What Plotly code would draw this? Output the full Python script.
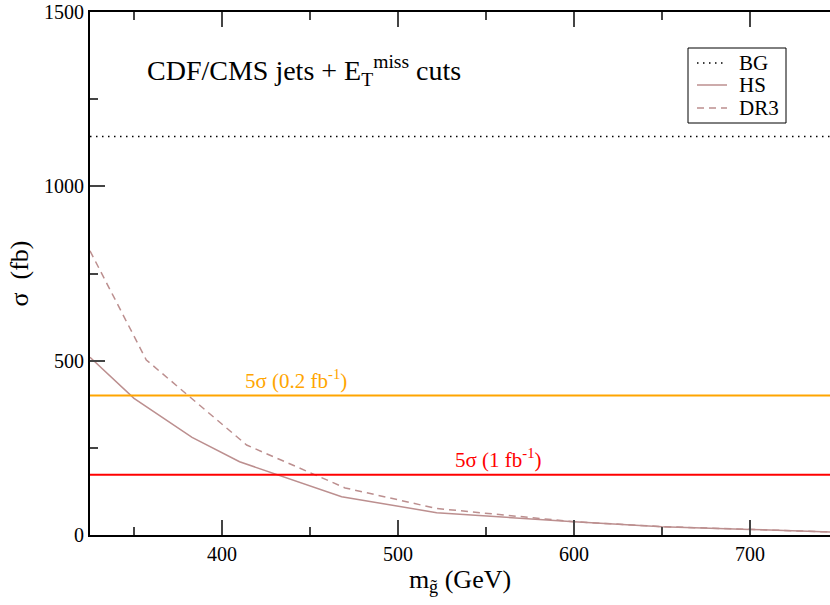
import plotly.graph_objects as go

# Data
hs_mass = [325, 350, 383, 410, 468, 522, 600, 650, 700, 750]
hs_sigma = [510, 392, 280, 210, 110, 64, 38, 24, 16, 8]
dr3_mass = [325, 357, 414, 470, 522, 600, 650, 700, 750]
dr3_sigma = [815, 502, 258, 135, 76, 38, 24, 16, 8]
bg_level = 1143
five_sigma_02 = 400
five_sigma_1 = 173
x_span = [325, 750]
legend_names = ["BG", "HS", "DR3"]

FONT = "Liberation Serif"
brown = "#bc8f8f"
W, H = 830, 605
ML, MR, MT, MB = 90, 0, 12, 70
PW, PH = W - ML - MR, H - MT - MB


def px(xp):
    return (xp - ML) / PW


def py(yp):
    return (H - MB - yp) / PH


styles = [dict(color="black", width=1.5, dash="1.5px,4.5px"),
          dict(color=brown, width=1.5),
          dict(color=brown, width=1.5, dash="7px,5px")]

fig = go.Figure()
fig.add_trace(go.Scatter(x=x_span, y=[bg_level, bg_level], mode="lines", name=legend_names[0],
                         line=styles[0], showlegend=False))
fig.add_trace(go.Scatter(x=hs_mass, y=hs_sigma, mode="lines", name=legend_names[1],
                         line=styles[1], showlegend=False))
fig.add_trace(go.Scatter(x=dr3_mass, y=dr3_sigma, mode="lines", name=legend_names[2],
                         line=styles[2], showlegend=False))
fig.add_trace(go.Scatter(x=x_span, y=[five_sigma_02] * 2, mode="lines", showlegend=False,
                         line=dict(color="#ffa500", width=2)))
fig.add_trace(go.Scatter(x=x_span, y=[five_sigma_1] * 2, mode="lines", showlegend=False,
                         line=dict(color="#ff0000", width=2)))

fig.add_annotation(x=442, y=five_sigma_02, yanchor="bottom", yshift=1, showarrow=False,
                   text="5σ (0.2 fb<sup>-1</sup>)", font=dict(family=FONT, size=21, color="#ffa500"))
fig.add_annotation(x=557, y=five_sigma_1, yanchor="bottom", yshift=1, showarrow=False,
                   text="5σ (1 fb<sup>-1</sup>)", font=dict(family=FONT, size=21, color="#ff0000"))
fig.add_annotation(x=px(145), y=py(92), xref="paper", yref="paper", xanchor="left", yanchor="bottom",
                   showarrow=False,
                   text="CDF/CMS jets + E<sub>T</sub><sup>miss</sup> cuts",
                   font=dict(family=FONT, size=28, color="black"))

# legend (drawn manually to match the compact layout)
fig.add_shape(type="rect", xref="paper", yref="paper", x0=px(688), x1=px(786), y0=py(48), y1=py(123),
              line=dict(color="black", width=1), fillcolor="white", layer="above")
rows = [63, 85, 108]
for name, st, r in zip(legend_names, styles, rows):
    fig.add_shape(type="line", xref="paper", yref="paper", x0=px(697), x1=px(727), y0=py(r), y1=py(r),
                  line=st, layer="above")
    fig.add_annotation(x=px(737), y=py(r), xref="paper", yref="paper", xanchor="left", yanchor="middle",
                       showarrow=False, text=name, font=dict(family=FONT, size=21, color="black"))

fig.update_layout(
    width=W, height=H,
    margin=dict(l=ML, r=MR, t=MT, b=MB),
    plot_bgcolor="white", paper_bgcolor="white",
    font=dict(family=FONT, size=20, color="black"),
    showlegend=False,
    xaxis=dict(range=[325, 745.5], tickvals=[400, 500, 600, 700], ticks="inside", ticklen=15,
               tickwidth=1.5, tickcolor="#444", showline=True, linecolor="black", linewidth=2,
               mirror="ticks", showgrid=False, zeroline=False,
               minor=dict(dtick=50, tick0=0, ticks="inside", ticklen=8, tickcolor="#444", tickwidth=1.5),
               title=dict(text="m<sub>g̃</sub> (GeV)", font=dict(family=FONT, size=26), standoff=2)),
    yaxis=dict(range=[0, 1500], tickvals=[0, 500, 1000, 1500], ticks="inside", ticklen=15,
               tickwidth=1.5, tickcolor="#444", showline=True, linecolor="black", linewidth=2,
               showgrid=False, zeroline=False,
               minor=dict(dtick=250, tick0=0, ticks="inside", ticklen=8, tickcolor="#444", tickwidth=1.5),
               title=dict(text="σ  (fb)", font=dict(family=FONT, size=26), standoff=8)),
)

fig.write_html("out.html")
